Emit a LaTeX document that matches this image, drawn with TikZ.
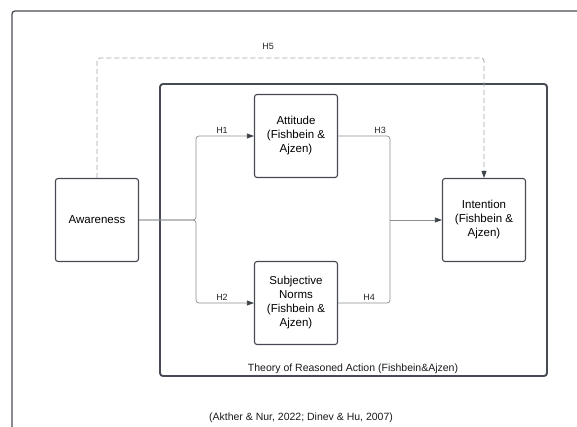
\documentclass[tikz,border=0pt]{standalone}
\usepackage{fontspec}
\setmainfont{Liberation Sans}
\usepackage{xcolor}
\usepackage{tikz}
\usetikzlibrary{calc,arrows.meta}
\definecolor{frame}{HTML}{464B53}
\definecolor{wire}{HTML}{8A8E94}
\definecolor{dashc}{HTML}{A0A3A8}
\definecolor{tip}{HTML}{3E434A}
\tikzset{
  box/.style={draw=frame, line width=1.1pt, rounded corners=2.5pt, minimum width=83pt,
    minimum height=83pt, align=center, inner sep=2pt,
    font=\fontsize{11.5}{14}\selectfont},
  conn/.style={draw=wire, line width=0.7pt, rounded corners=3pt},
  hyp/.style={draw=dashc, line width=0.8pt, dash pattern=on 5pt off 3pt, rounded corners=3pt},
  tipa/.style={-{Triangle[length=7pt,width=5pt,color=tip]}},
  hlab/.style={font=\fontsize{9}{10}\selectfont, text=black!85},
  captxt/.style={font=\fontsize{10.5}{12}\selectfont, text=black!90},
}
\begin{document}
\begin{tikzpicture}[x=1pt,y=-1pt]
  \useasboundingbox (0,0) rectangle (577,426);
  % outer frame, runs off the page
  \draw[frame, line width=1.3pt, rounded corners=3pt] (12,11) rectangle (640,480);
  % theory of reasoned action frame
  \draw[frame, line width=1.9pt, rounded corners=3pt] (160,84) rectangle (547,376);
  \node[captxt] (tra) at (353,369) {Theory of Reasoned Action (Fishbein\&Ajzen)};

  \node[box] (aw) at (97,220) {Awareness};
  \node[box] (att) at (296,136) {Attitude\\(Fishbein \&\\Ajzen)};
  \node[box] (sn) at (296,303) {Subjective\\Norms\\(Fishbein \&\\Ajzen)};
  \node[box] (int) at (484,220) {Intention\\(Fishbein \&\\Ajzen)};

  \coordinate (split) at (196,220);
  \coordinate (join) at (390,220);

  \draw[conn,tipa] (aw.east) -- (split) |- (att.west);
  \draw[conn,tipa] (aw.east) -- (split) |- (sn.west);
  \draw[conn] (att.east) -| (join);
  \draw[conn] (sn.east) -| (join);
  \draw[conn,tipa] (join) -- (int.west);
  \draw[hyp,tipa] (aw.north) -- ++(0,-120) -| (int.north);

  \node[hlab] (h1) at (222,130) {H1};
  \node[hlab] (h2) at (222,297) {H2};
  \node[hlab] (h3) at (380,130) {H3};
  \node[hlab] (h4) at (369,297) {H4};
  \node[hlab] (h5) at (268,46) {H5};

  \node[captxt] (src) at (301,418) {(Akther \& Nur, 2022; Dinev \& Hu, 2007)};
\end{tikzpicture}
\end{document}
